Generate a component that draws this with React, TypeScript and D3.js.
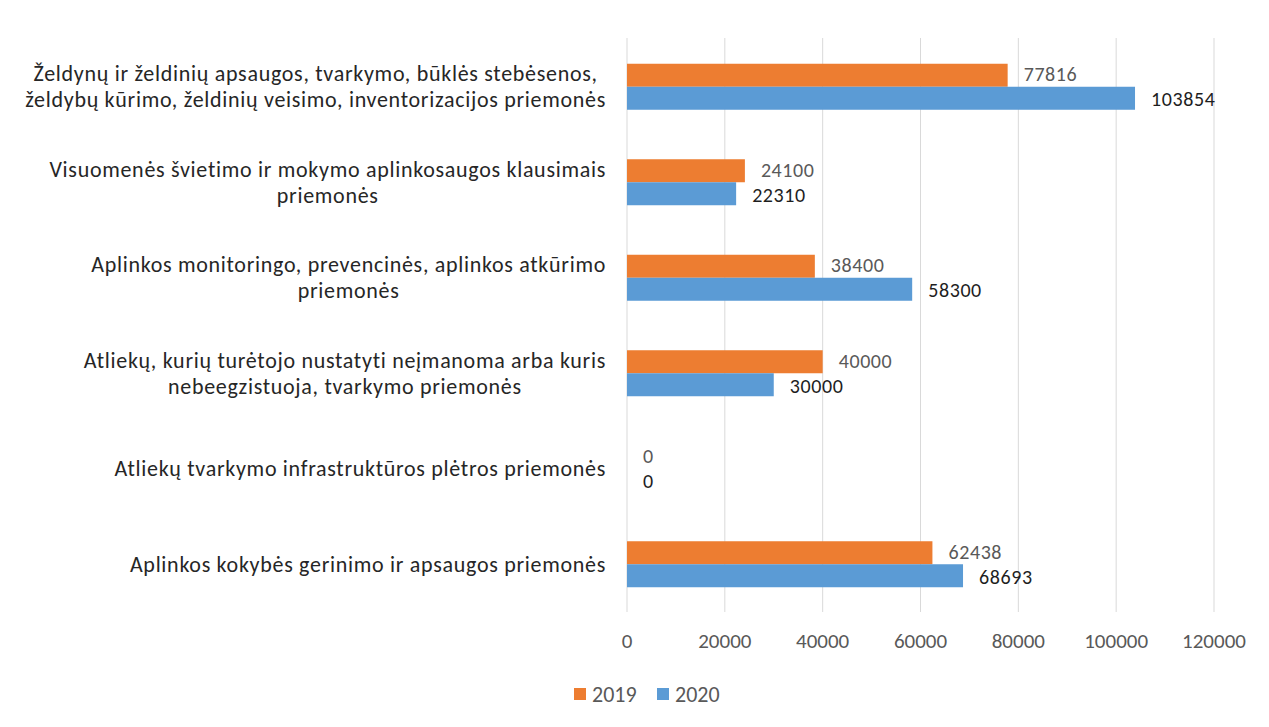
import * as d3 from "d3";
import React, { useEffect, useRef } from "react";

const categories = [
  ["Želdynų ir želdinių apsaugos, tvarkymo, būklės stebėsenos,", "želdybų kūrimo, želdinių veisimo, inventorizacijos priemonės"],
  ["Visuomenės švietimo ir mokymo aplinkosaugos klausimais", "priemonės"],
  ["Aplinkos monitoringo, prevencinės, aplinkos atkūrimo", "priemonės"],
  ["Atliekų, kurių turėtojo nustatyti neįmanoma arba kuris", "nebeegzistuoja, tvarkymo priemonės"],
  ["Atliekų tvarkymo infrastruktūros plėtros priemonės"],
  ["Aplinkos kokybės gerinimo ir apsaugos priemonės"],
];
const values2019 = [77816, 24100, 38400, 40000, 0, 62438];
const values2020 = [103854, 22310, 58300, 30000, 0, 68693];
const xTicks = [0, 20000, 40000, 60000, 80000, 100000, 120000];
const seriesNames = ["2019", "2020"];
const colors = ["#ed7d31", "#5b9bd5"];

const FONT = "Carlito, Calibri, 'Liberation Sans', sans-serif";

export default function App() {
  const svgRef = useRef<SVGSVGElement>(null);

  useEffect(() => {
    const svg = d3.select(svgRef.current);
    svg.selectAll("*").remove();

    const left = 627, right = 1214, top = 39, bottom = 612;
    const x = d3.scaleLinear().domain([0, 120000]).range([left, right]);
    const y = d3.scaleBand<number>().domain(d3.range(categories.length)).range([top, bottom]);
    const barH = 23;

    // gridlines
    svg.append("g")
      .selectAll("line")
      .data(xTicks)
      .join("line")
      .attr("x1", (d) => x(d)).attr("x2", (d) => x(d))
      .attr("y1", 38).attr("y2", bottom)
      .attr("stroke", "#d9d9d9").attr("stroke-width", 1);

    // tick labels
    svg.append("g")
      .selectAll("text")
      .data(xTicks)
      .join("text")
      .attr("x", (d) => x(d)).attr("y", 641)
      .attr("dy", "0.35em")
      .attr("text-anchor", "middle")
      .attr("font-family", FONT).attr("font-size", 21)
      .attr("fill", "#595959")
      .text((d) => String(d));

    const series = [values2019, values2020];
    series.forEach((vals, si) => {
      const g = svg.append("g");
      g.selectAll("rect")
        .data(vals)
        .join("rect")
        .attr("x", x(0))
        .attr("y", (_, i) => y(i)! + y.bandwidth() / 2 - barH + si * barH)
        .attr("width", (d) => x(d) - x(0))
        .attr("height", barH)
        .attr("fill", colors[si]);
      // orange labels nudged up, blue ones down, so the stacked pair doesn't collide
      g.selectAll("text")
        .data(vals)
        .join("text")
        .attr("x", (d) => x(d) + 16)
        .attr("y", (_, i) => y(i)! + y.bandwidth() / 2 - barH / 2 + si * barH + (si === 0 ? -1 : 1))
        .attr("dy", "0.35em")
        .attr("font-family", FONT).attr("font-size", 20)
        .attr("letter-spacing", 0.6)
        .attr("fill", si === 0 ? "#595959" : "#1e1e1e")
        .text((d) => String(d));
    });

    // category labels: block right-aligned, lines centered in block
    const labelRight = 606;
    const lineH = 26;
    categories.forEach((lines, i) => {
      const cy = y(i)! + y.bandwidth() / 2;
      const g = svg.append("g");
      const texts = g.selectAll("text")
        .data(lines)
        .join("text")
        .attr("y", (_, j) => cy + (j - (lines.length - 1) / 2) * lineH)
        .attr("dy", "0.35em")
        .attr("font-family", FONT).attr("font-size", 22)
        .attr("letter-spacing", 0.7)
        .attr("fill", "#262626")
        .attr("text-anchor", "middle")
        .text((d) => d);
      let maxW = 0;
      texts.each(function () {
        maxW = Math.max(maxW, (this as SVGTextElement).getComputedTextLength());
      });
      texts.attr("x", labelRight - maxW / 2);
    });

    // legend
    const legend = svg.append("g").attr("transform", "translate(574,694)");
    seriesNames.forEach((name, i) => {
      const lx = i * 83;
      legend.append("rect").attr("x", lx).attr("y", -6).attr("width", 12).attr("height", 12).attr("fill", colors[i]);
      legend.append("text").attr("x", lx + 18).attr("y", 0).attr("dy", "0.35em")
        .attr("font-family", FONT).attr("font-size", 22).attr("fill", "#595959").text(name);
    });
  }, []);

  return <svg ref={svgRef} width={1269} height={727} style={{ position: "absolute", left: 0, top: 0, background: "#fff" }} />;
}
